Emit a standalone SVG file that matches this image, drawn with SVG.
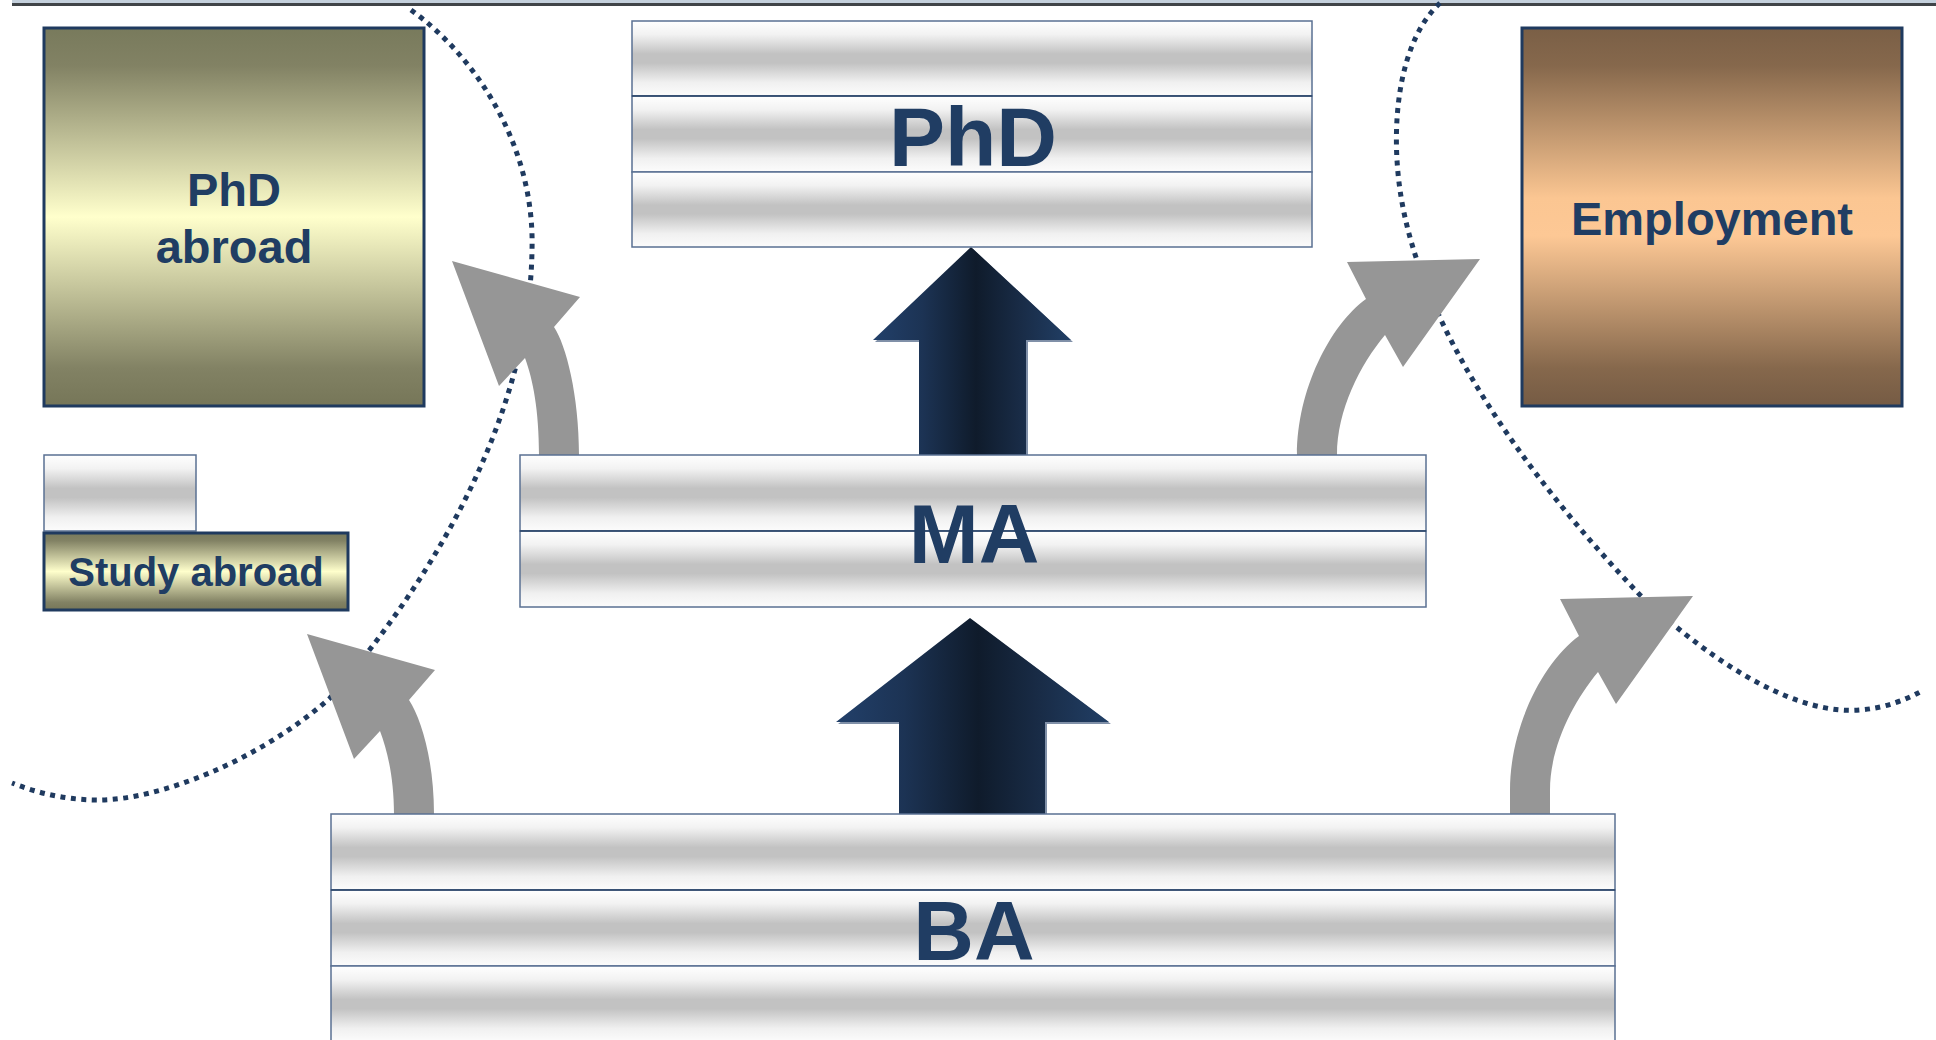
<svg xmlns="http://www.w3.org/2000/svg" width="1936" height="1040" viewBox="0 0 1936 1040">
<defs>
<linearGradient id="band" x1="0" y1="0" x2="0" y2="1">
<stop offset="0" stop-color="#ffffff"/>
<stop offset="0.18" stop-color="#f2f2f2"/>
<stop offset="0.44" stop-color="#c2c2c2"/>
<stop offset="0.56" stop-color="#c2c2c2"/>
<stop offset="0.82" stop-color="#f0f0f0"/>
<stop offset="1" stop-color="#fcfcfc"/>
</linearGradient>
<linearGradient id="olive" x1="0" y1="0" x2="0" y2="1">
<stop offset="0" stop-color="#787a5c"/>
<stop offset="0.1" stop-color="#828264"/>
<stop offset="0.5" stop-color="#ffffcc"/>
<stop offset="0.9" stop-color="#828264"/>
<stop offset="1" stop-color="#767658"/>
</linearGradient>
<linearGradient id="brown" x1="0" y1="0" x2="0" y2="1">
<stop offset="0" stop-color="#7a5f46"/>
<stop offset="0.1" stop-color="#86684c"/>
<stop offset="0.45" stop-color="#fbc692"/>
<stop offset="0.55" stop-color="#fdc895"/>
<stop offset="0.9" stop-color="#86684c"/>
<stop offset="1" stop-color="#755b44"/>
</linearGradient>
<linearGradient id="navy" x1="0" y1="0" x2="1" y2="0">
<stop offset="0" stop-color="#22406a"/>
<stop offset="0.25" stop-color="#1c3354"/>
<stop offset="0.52" stop-color="#0f1b2b"/>
<stop offset="0.75" stop-color="#192c47"/>
<stop offset="1" stop-color="#213f66"/>
</linearGradient>
<style>
.band{fill:url(#band);stroke:#5a7092;stroke-width:1.5}
.div{stroke:#2a4468;stroke-width:1.5}
.box{stroke:#1f3a5f;stroke-width:3}
.lbl{font-family:"Liberation Sans",Arial,sans-serif;font-weight:bold;fill:#203d63;text-anchor:middle}
.big{font-size:84px}
.mid{font-size:47px}
.sm{font-size:40px}
.dots{fill:none;stroke:#1f3a5f;stroke-width:5;stroke-dasharray:5 5.5}
.gray{fill:#969696}
.shadow{fill:#8090a8}
.dark{fill:url(#navy)}
</style>
</defs>

<g id="topbar">
<rect x="12" y="0" width="1924" height="3" fill="#c4d0dc"/>
<rect x="12" y="3" width="1924" height="3" fill="#404448"/>
</g>

<g id="boundaries">
<path class="dots" d="M 411 10 C 480 60, 535 150, 532 250 C 530 400, 450 560, 330 698 C 260 760, 160 800, 98 800 C 60 800, 30 790, 12 783"/>
<path class="dots" d="M 1440 3 C 1400 40, 1390 120, 1400 190 C 1420 330, 1530 480, 1640 595 C 1720 670, 1800 715, 1860 710 C 1885 708, 1905 700, 1920 692"/>
</g>

<g id="connectors">
<path class="gray" d="M 539 455 C 539 410, 533 380, 525 358 L 499 386 L 452 261 L 580 297 L 554 327 C 566 345, 579 395, 579 455 Z"/>
<path class="gray" d="M 394 814 C 394 780, 388 752, 380 731 L 354 759 L 307 634 L 435 670 L 409 700 C 421 718, 434 760, 434 814 Z"/>
<path class="gray" d="M 1337 455 C 1337 410, 1360 365, 1385 335 L 1403 367 L 1480 259 L 1347 262 L 1366 299 C 1330 325, 1297 390, 1297 455 Z"/>
<path class="gray" d="M 1550 814 L 1550 790 C 1550 747, 1573 702, 1598 672 L 1616 704 L 1693 596 L 1560 599 L 1579 636 C 1543 662, 1510 727, 1510 790 L 1510 814 Z"/>
<path class="shadow" transform="translate(2,2)" d="M 971 247 L 1071 340 L 1026 340 L 1026 453 L 919 453 L 919 340 L 873 340 Z"/>
<path class="dark" d="M 971 247 L 1071 340 L 1026 340 L 1026 455 L 919 455 L 919 340 L 873 340 Z"/>
<path class="shadow" transform="translate(2,2)" d="M 970 618 L 1109 722 L 1045 722 L 1045 812 L 899 812 L 899 722 L 836 722 Z"/>
<path class="dark" d="M 970 618 L 1109 722 L 1045 722 L 1045 814 L 899 814 L 899 722 L 836 722 Z"/>
</g>

<g id="phd-abroad">
<rect class="box" x="44" y="28" width="380" height="378" fill="url(#olive)"/>
<text class="lbl mid" x="234" y="206">PhD</text>
<text class="lbl mid" x="234" y="263">abroad</text>
</g>

<g id="employment">
<rect class="box" x="1522" y="28" width="380" height="378" fill="url(#brown)"/>
<text class="lbl mid" x="1712" y="235">Employment</text>
</g>

<g id="phd">
<rect class="band" x="632" y="21" width="680" height="75"/>
<rect class="band" x="632" y="96" width="680" height="76"/>
<rect class="band" x="632" y="172" width="680" height="75"/>
<line class="div" x1="632" y1="96" x2="1312" y2="96"/>
<text class="lbl big" x="973" y="166">PhD</text>
</g>

<g id="study-abroad">
<rect class="band" x="44" y="455" width="152" height="76"/>
<rect class="box" x="44" y="533" width="304" height="77" fill="url(#olive)"/>
<text class="lbl sm" x="196" y="586">Study abroad</text>
</g>

<g id="ma">
<rect class="band" x="520" y="455" width="906" height="76"/>
<rect class="band" x="520" y="531" width="906" height="76"/>
<line class="div" x1="520" y1="531" x2="1426" y2="531"/>
<text class="lbl big" x="974" y="563">MA</text>
</g>

<g id="ba">
<rect class="band" x="331" y="814" width="1284" height="76"/>
<rect class="band" x="331" y="890" width="1284" height="76"/>
<rect class="band" x="331" y="966" width="1284" height="76"/>
<line class="div" x1="331" y1="890" x2="1615" y2="890"/>
<text class="lbl big" x="974" y="960">BA</text>
</g>
</svg>
